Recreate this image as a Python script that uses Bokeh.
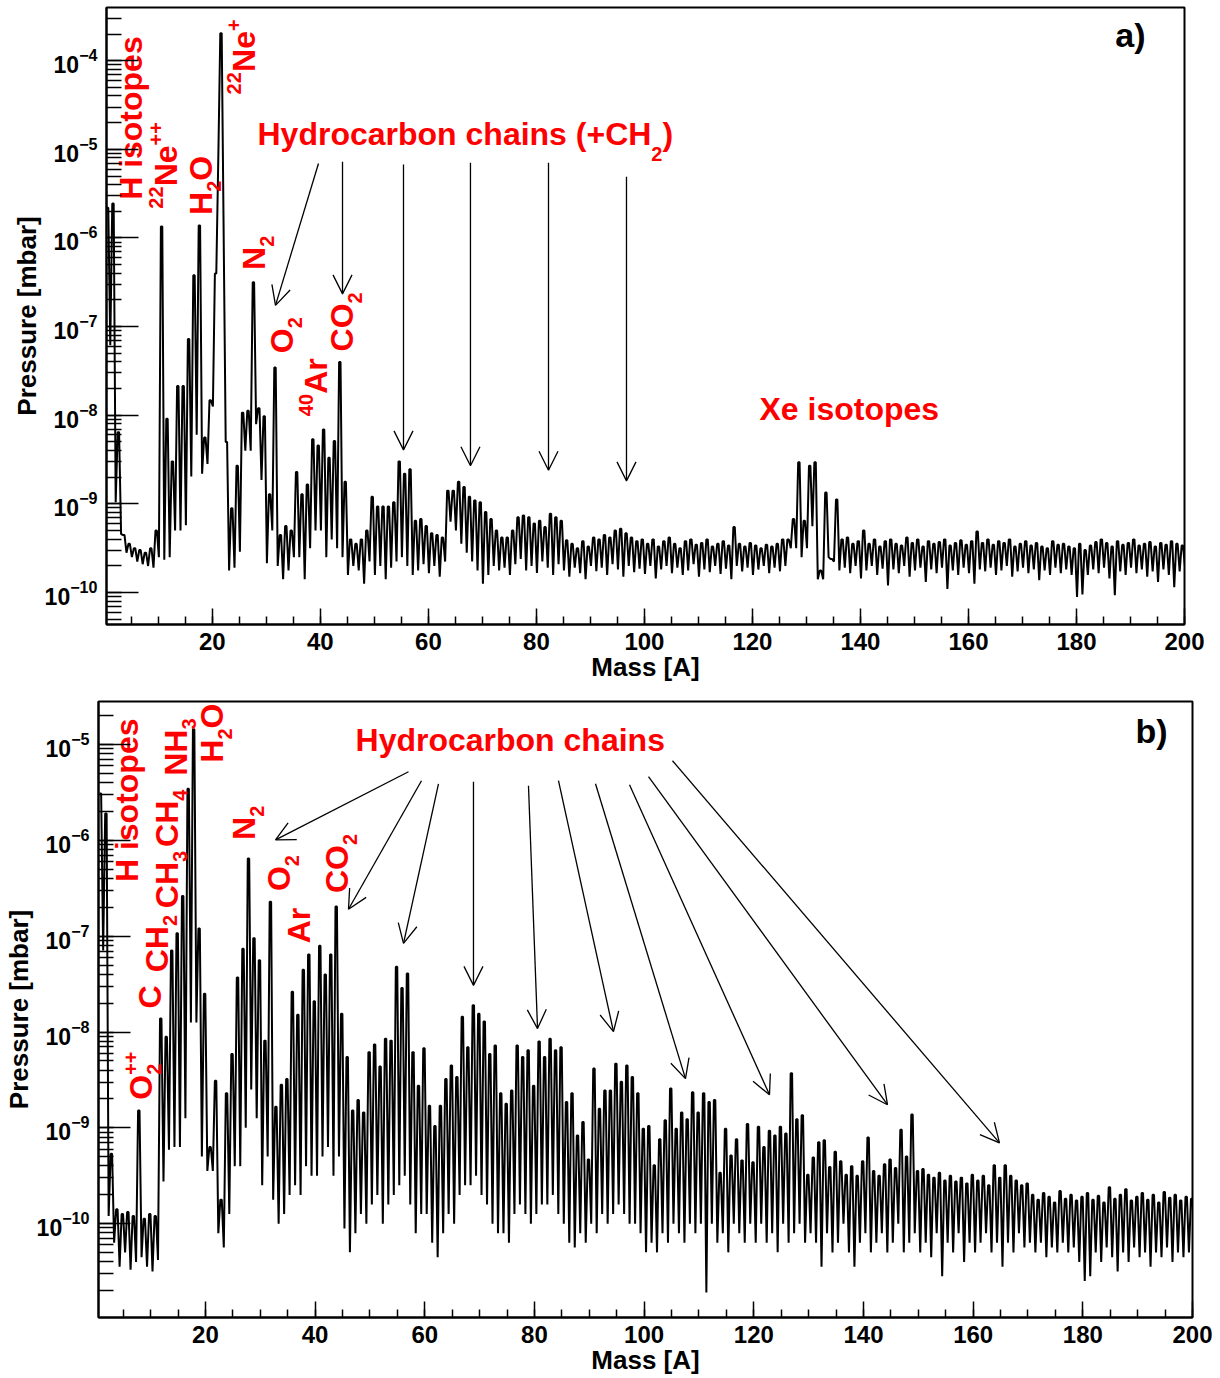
import numpy as np
from bokeh.plotting import figure
from bokeh.layouts import column
from bokeh.models import Arrow, OpenHead, SingleIntervalTicker, LogTicker
from bokeh.core.properties import value
from bokeh.embed import file_html
from bokeh.resources import INLINE

# ---------------- data (log10 of pressure in mbar) ----------------
MASS = list(range(1, 201))          # integer mass numbers
A_MASS_OFFSET = -0.4                # peak positions in panel a appear ~0.4 A low
B_MASS_OFFSET = -0.15               # peak positions in panel b appear ~0.15 A low

# panel a: peak tops at each mass
A_PEAK_LOG = [
    -5.66, -5.61, -8.19, -9.35, -9.45, -9.50, -9.52, -9.55, -9.50, -9.30,
    -5.87, -8.04, -8.52, -7.67, -7.67, -7.14, -6.42, -5.86, -8.25, -7.83,
    -6.40, -3.69, -8.30, -9.05, -8.57, -7.97, -7.95, -6.50, -7.92, -8.01,
    -8.89, -7.46, -9.35, -9.25, -9.30, -8.64, -8.89, -8.78, -8.27, -8.34,
    -8.16, -8.48, -8.29, -7.40, -8.75, -9.40, -9.45, -9.40, -9.30, -8.92,
    -9.03, -9.03, -9.03, -8.98, -8.52, -8.66, -8.61, -9.19, -9.17, -9.25,
    -9.33, -9.35, -9.38, -8.85, -8.85, -8.75, -8.81, -8.92, -8.96, -8.98,
    -9.09, -9.17, -9.30, -9.38, -9.38, -9.30, -9.15, -9.13, -9.15, -9.22,
    -9.19, -9.26, -9.11, -9.15, -9.19, -9.41, -9.45, -9.50, -9.42, -9.48,
    -9.38, -9.40, -9.35, -9.38, -9.30, -9.28, -9.33, -9.38, -9.42, -9.40,
    -9.45, -9.40, -9.48, -9.42, -9.38, -9.45, -9.50, -9.42, -9.40, -9.46,
    -9.44, -9.40, -9.48, -9.45, -9.42, -9.47, -9.26, -9.45, -9.48, -9.44,
    -9.47, -9.50, -9.46, -9.48, -9.45, -9.40, -9.40, -9.17, -8.53, -9.19,
    -8.57, -8.53, -9.75, -8.87, -9.62, -8.95, -9.40, -9.38, -9.45, -9.42,
    -9.30, -9.45, -9.40, -9.48, -9.42, -9.40, -9.45, -9.47, -9.38, -9.44,
    -9.40, -9.48, -9.42, -9.45, -9.43, -9.40, -9.47, -9.44, -9.41, -9.46,
    -9.42, -9.31, -9.44, -9.40, -9.46, -9.42, -9.44, -9.40, -9.48, -9.45,
    -9.42, -9.47, -9.44, -9.48, -9.50, -9.42, -9.46, -9.45, -9.48, -9.50,
    -9.45, -9.52, -9.47, -9.43, -9.40, -9.44, -9.48, -9.42, -9.46, -9.44,
    -9.40, -9.47, -9.45, -9.43, -9.48, -9.44, -9.46, -9.42, -9.45, -9.47,
]
# panel a: minima between mass m and m+1
A_VALLEY_LOG = [
    -7.21, -8.98, -9.34, -9.55, -9.60, -9.65, -9.68, -9.70, -9.72, -9.60,
    -9.63, -9.60, -9.30, -9.30, -9.24, -8.69, -8.22, -8.66, -8.55, -7.90,
    -5.10, -6.00, -9.75, -9.72, -9.54, -8.40, -8.40, -8.10, -8.73, -9.67,
    -9.30, -9.70, -9.85, -9.75, -9.60, -9.60, -9.85, -9.50, -9.30, -9.30,
    -9.60, -9.40, -9.50, -9.60, -9.80, -9.70, -9.75, -9.90, -9.65, -9.80,
    -9.70, -9.85, -9.72, -9.65, -9.60, -9.70, -9.80, -9.75, -9.68, -9.78,
    -9.70, -9.82, -9.65, -9.20, -9.30, -9.45, -9.55, -9.65, -9.75, -9.90,
    -9.80, -9.70, -9.75, -9.72, -9.80, -9.68, -9.62, -9.75, -9.70, -9.78,
    -9.65, -9.72, -9.80, -9.68, -9.75, -9.82, -9.72, -9.78, -9.85, -9.70,
    -9.76, -9.72, -9.80, -9.68, -9.74, -9.82, -9.70, -9.77, -9.73, -9.79,
    -9.70, -9.84, -9.74, -9.70, -9.78, -9.72, -9.80, -9.75, -9.68, -9.82,
    -9.74, -9.77, -9.70, -9.79, -9.73, -9.85, -9.70, -9.76, -9.72, -9.80,
    -9.74, -9.70, -9.78, -9.72, -9.76, -9.70, -9.50, -9.50, -9.60, -9.50,
    -9.25, -9.85, -9.85, -9.60, -9.65, -9.75, -9.72, -9.78, -9.70, -9.84,
    -9.75, -9.70, -9.80, -9.73, -9.92, -9.74, -9.78, -9.70, -9.82, -9.75,
    -9.72, -9.88, -9.74, -9.78, -9.72, -9.96, -9.75, -9.80, -9.72, -9.78,
    -9.90, -9.74, -9.76, -9.72, -9.80, -9.75, -9.70, -9.82, -9.76, -9.72,
    -9.78, -9.74, -9.86, -9.75, -9.80, -9.72, -9.78, -9.74, -9.80, -10.05,
    -10.02, -9.80, -9.74, -9.78, -9.72, -9.84, -10.03, -9.76, -9.80, -9.72,
    -9.78, -9.74, -9.82, -9.76, -9.88, -9.74, -9.80, -9.94, -9.76, -9.72,
]
# panel b: peak tops at each mass
B_PEAK_LOG = [
    -5.51, -5.72, -9.27, -9.85, -9.90, -9.88, -9.92, -8.82, -9.95, -9.90,
    -9.92, -7.86, -8.05, -7.15, -6.97, -6.58, -5.46, -4.84, -6.92, -7.60,
    -9.20, -8.51, -9.75, -8.64, -8.23, -7.43, -7.13, -6.19, -7.02, -7.25,
    -8.09, -6.64, -8.78, -8.55, -8.49, -7.58, -7.82, -7.35, -7.19, -7.68,
    -7.10, -7.40, -7.19, -6.69, -7.81, -8.26, -8.82, -8.71, -8.84, -8.21,
    -8.13, -8.36, -8.07, -8.09, -7.32, -7.54, -7.39, -8.21, -8.56, -8.17,
    -8.77, -8.98, -8.77, -8.49, -8.35, -8.47, -7.84, -8.16, -7.72, -7.81,
    -7.89, -8.23, -8.14, -8.64, -8.75, -8.61, -8.14, -8.26, -8.19, -8.56,
    -8.10, -8.26, -8.07, -8.19, -8.16, -8.73, -8.64, -9.08, -8.94, -9.33,
    -8.38, -8.80, -8.61, -8.61, -8.33, -8.52, -8.35, -8.47, -8.64, -9.01,
    -8.98, -9.39, -9.12, -8.92, -8.59, -9.01, -8.84, -8.91, -8.63, -8.84,
    -8.64, -8.73, -8.71, -9.47, -9.01, -9.29, -9.12, -9.34, -8.96, -9.36,
    -8.99, -9.20, -9.03, -9.08, -8.99, -9.06, -8.43, -8.91, -8.87, -9.49,
    -9.31, -9.15, -9.13, -9.41, -9.25, -9.35, -9.49, -9.40, -9.50, -9.35,
    -9.10, -9.45, -9.50, -9.38, -9.33, -9.42, -9.02, -9.30, -8.86, -9.45,
    -9.43, -9.49, -9.52, -9.47, -9.55, -9.50, -9.56, -9.52, -9.58, -9.49,
    -9.55, -9.50, -9.60, -9.39, -9.52, -9.39, -9.50, -9.55, -9.60, -9.58,
    -9.70, -9.75, -9.68, -9.72, -9.78, -9.66, -9.74, -9.70, -9.76, -9.72,
    -9.68, -9.75, -9.71, -9.78, -9.62, -9.74, -9.70, -9.64, -9.76, -9.72,
    -9.68, -9.75, -9.70, -9.78, -9.67, -9.73, -9.70, -9.76, -9.72, -9.74,
]
# panel b: minima between mass m and m+1
B_VALLEY_LOG = [
    -7.15, -9.92, -10.20, -10.45, -10.30, -10.48, -10.40, -10.35, -10.45, -10.50,
    -10.38, -9.56, -9.23, -9.20, -9.20, -8.90, -7.90, -7.90, -9.30, -9.45,
    -9.45, -10.10, -10.25, -9.90, -9.40, -9.40, -9.00, -8.60, -8.90, -9.60,
    -9.30, -9.75, -10.00, -9.90, -9.70, -9.60, -9.70, -9.40, -9.50, -9.50,
    -9.30, -9.20, -9.50, -9.30, -10.05, -10.30, -10.10, -9.90, -10.00, -9.80,
    -9.70, -10.00, -9.80, -9.70, -9.60, -9.50, -9.80, -10.10, -9.90, -9.90,
    -10.20, -10.35, -10.10, -9.90, -10.00, -9.70, -9.60, -9.60, -9.50, -9.70,
    -9.80, -10.00, -10.10, -10.10, -10.20, -9.90, -9.80, -9.90, -10.00, -9.90,
    -9.80, -9.80, -9.70, -9.90, -10.00, -10.20, -10.25, -10.10, -10.20, -10.00,
    -10.10, -9.90, -10.00, -9.90, -9.80, -9.90, -10.00, -10.00, -10.10, -10.30,
    -10.20, -10.30, -10.10, -10.20, -10.00, -10.10, -10.20, -10.00, -10.10, -10.00,
    -10.72, -10.00, -10.20, -10.10, -10.30, -10.00, -10.10, -10.20, -10.00, -10.20,
    -10.00, -10.20, -10.10, -10.30, -10.00, -10.20, -10.10, -10.00, -10.20, -10.10,
    -10.20, -10.45, -10.10, -10.30, -10.20, -10.00, -10.30, -10.45, -10.20, -10.10,
    -10.30, -10.20, -10.10, -10.30, -10.20, -10.00, -10.30, -10.20, -10.10, -10.30,
    -10.20, -10.35, -10.10, -10.55, -10.20, -10.30, -10.10, -10.40, -10.20, -10.30,
    -10.20, -10.10, -10.30, -10.20, -10.45, -10.20, -10.30, -10.10, -10.25, -10.20,
    -10.30, -10.20, -10.35, -10.25, -10.30, -10.20, -10.30, -10.25, -10.40, -10.60,
    -10.55, -10.30, -10.40, -10.25, -10.35, -10.50, -10.30, -10.40, -10.25, -10.35,
    -10.30, -10.45, -10.30, -10.35, -10.25, -10.40, -10.30, -10.35, -10.30, -10.20,
]

X_TICK_INTERVAL = 20

# annotations: (segments, rotated, (mass, log10 p) of baseline start)
A_LABELS = [
    ([("H isotopes", "n")], True, (7.07, -5.57)),
    ([("22", "sup"), ("Ne", "n"), ("++", "sup")], True, (13.55, -5.67)),
    ([("H", "n"), ("2", "sub"), ("O", "n")], True, (20.03, -5.74)),
    ([("22", "sup"), ("Ne", "n"), ("+", "sup")], True, (27.99, -4.38)),
    ([("N", "n"), ("2", "sub")], True, (29.84, -6.36)),
    ([("O", "n"), ("2", "sub")], True, (35.02, -7.30)),
    ([("40", "sup"), ("Ar", "n")], True, (41.32, -8.01)),
    ([("CO", "n"), ("2", "sub")], True, (46.13, -7.28)),
    ([("Hydrocarbon chains (+CH", "n"), ("2", "subh"), (")", "n")], False, (28.36, -4.96)),
    ([("Xe isotopes", "n")], False, (121.3, -8.06)),
]
B_LABELS = [
    ([("H isotopes", "n")], True, (7.79, -6.435)),
    ([("O", "n"), ("2", "sub", False), ("++", "sup")], True, (10.35, -8.707)),
    ([("C", "n")], True, (11.99, -7.754)),
    ([("CH", "n"), ("2", "sub")], True, (13.27, -7.377)),
    ([("CH", "n"), ("3", "sub")], True, (15.09, -6.707)),
    ([("CH", "n"), ("4", "sub")], True, (15.09, -6.068)),
    ([("NH", "n"), ("3", "sub")], True, (16.73, -5.325)),
    ([("H", "n"), ("2", "sub"), ("O", "n")], True, (23.29, -5.189)),
    ([("N", "n"), ("2", "sub")], True, (29.13, -5.995)),
    ([("O", "n"), ("2", "sub")], True, (35.51, -6.529)),
    ([("Ar", "n")], True, (39.16, -7.074)),
    ([("CO", "n"), ("2", "sub")], True, (46.09, -6.550)),
    ([("Hydrocarbon chains", "n")], False, (47.37, -5.074)),
]
# arrows: (mass start, log10 p start, mass end, log10 p end)
A_ARROWS = [
    (39.65, -5.16, 31.69, -6.76),
    (44.10, -5.14, 44.10, -6.63),
    (55.39, -5.17, 55.39, -8.39),
    (67.79, -5.15, 67.79, -8.57),
    (82.24, -5.15, 82.24, -8.62),
    (96.68, -5.31, 96.68, -8.74),
]
B_ARROWS = [
    (57.03, -5.283, 32.78, -5.995),
    (59.40, -5.377, 46.09, -6.718),
    (62.50, -5.409, 56.12, -7.074),
    (68.88, -5.388, 68.88, -7.513),
    (78.91, -5.430, 80.56, -7.964),
    (84.38, -5.377, 94.41, -7.995),
    (91.13, -5.409, 107.54, -8.487),
    (97.33, -5.419, 122.86, -8.655),
    (100.80, -5.335, 144.38, -8.759),
    (105.17, -5.168, 164.80, -9.157),
]

# ---------------- styling ----------------
FONT = "Liberation Sans"
RED = "#ff0000"
LABEL_SIZE = 32
BASELINE_FIX = 0.37     # renderer places the alphabetic baseline ~0.37 em low
PEAK_TOP_HALF = 0.13    # drawn half-width of each peak top (mass units)
GLYPH_W = {" ": 0.278, "(": 0.333, ")": 0.333, "+": 0.584, "A": 0.722, "C": 0.722,
           "H": 0.722, "N": 0.722, "O": 0.778, "X": 0.667, "a": 0.556, "b": 0.611,
           "c": 0.556, "d": 0.611, "e": 0.556, "h": 0.611, "i": 0.278, "n": 0.611,
           "o": 0.611, "p": 0.611, "r": 0.389, "s": 0.556, "t": 0.333, "y": 0.556}


def seg_width(s):
    return sum(GLYPH_W.get(c, 0.556) for c in s)


def make_fig(geo, mb):
    p = figure(x_range=(geo["x0"], geo["x1"]), y_range=(10 ** geo["l0"], 10 ** geo["l1"]),
               y_axis_type="log", frame_width=geo["fw"], frame_height=geo["fh"],
               min_border_left=mb[0], min_border_right=mb[1], min_border_top=mb[2],
               min_border_bottom=mb[3], output_backend="svg", toolbar_location=None,
               frame_align=False)
    p.xgrid.visible = False
    p.ygrid.visible = False
    p.outline_line_color = "black"
    p.outline_line_width = 2
    p.background_fill_color = "white"
    p.border_fill_color = "white"
    p.xaxis.ticker = SingleIntervalTicker(interval=X_TICK_INTERVAL, num_minor_ticks=4)
    p.yaxis.ticker = LogTicker(num_minor_ticks=10)
    for ax in (p.xaxis[0], p.yaxis[0]):
        ax.axis_line_width = 2
        ax.major_tick_out = 0
        ax.minor_tick_out = 0
        ax.major_tick_line_width = 1.5
        ax.minor_tick_line_width = 1.5
        ax.major_label_text_font = FONT
        ax.major_label_text_font_style = "bold"
        ax.axis_label_text_font = FONT
        ax.axis_label_text_font_style = "bold"
        ax.axis_label_text_font_size = "26px"
        ax.axis_label_text_color = "black"
        ax.major_label_text_color = "black"
    p.xaxis.major_tick_in = 16
    p.xaxis.minor_tick_in = 8
    p.yaxis.major_tick_in = 32
    p.yaxis.minor_tick_in = 15
    p.xaxis.major_label_text_font_size = "24px"
    p.yaxis.major_label_text_font_size = "23px"
    p.xaxis.axis_label = "Mass [A]"
    p.yaxis.axis_label = "Pressure [mbar]"
    p.xaxis.major_label_standoff = 8
    p.xaxis.axis_label_standoff = -1
    p.yaxis.major_label_standoff = 9
    p.yaxis.axis_label_standoff = 0
    return p


def draw_trace(p, peaks, valleys, offset):
    xs, ys = [], []
    for m, pk, vl in zip(MASS, peaks, valleys):
        xs += [m + offset - PEAK_TOP_HALF, m + offset + PEAK_TOP_HALF, m + 0.5 + offset]
        ys += [10 ** pk, 10 ** pk, 10 ** vl]
    p.line(xs, ys, line_color="black", line_width=2)


def draw_label(p, geo, segs, rotated, anchor, size=LABEL_SIZE, color=RED):
    x0, l0 = anchor
    mpp = (geo["x1"] - geo["x0"]) / geo["fw"]
    lpp = (geo["l1"] - geo["l0"]) / geo["fh"]
    adv = 0.0
    for seg in segs:
        text, kind = seg[0], seg[1]
        advance = seg[2] if len(seg) > 2 else True
        sc = 1.0 if kind == "n" else 0.63
        fs = size * sc
        shift = {"n": 0.0, "sub": -0.28, "subh": -0.5, "sup": 0.45}[kind] * size + BASELINE_FIX * fs
        if rotated:
            x, l = x0 - shift * mpp, l0 + adv * lpp
        else:
            x, l = x0 + adv * mpp, l0 + shift * lpp
        p.text(x=[x], y=[10 ** l], text=[text], angle=np.pi / 2 if rotated else 0.0,
               text_align="left", text_baseline="alphabetic", text_font=value(FONT),
               text_font_style="bold", text_font_size=f"{round(fs)}px", text_color=color)
        if advance:
            adv += seg_width(text) * fs


def draw_arrows(p, arrows):
    for xs, ls, xe, le in arrows:
        p.add_layout(Arrow(end=OpenHead(size=19, line_width=1.3, line_color="black"),
                           x_start=xs, y_start=10 ** ls, x_end=xe, y_end=10 ** le,
                           line_width=1.3, line_color="black"))


GEO_A = dict(x0=0.4, x1=200.0, l0=-10.36, l1=-3.40, fw=1078, fh=617)
GEO_B = dict(x0=0.5, x1=200.0, l0=-10.98, l1=-4.55, fw=1094, fh=616)

pa = make_fig(GEO_A, (106, 36, 7, 70))
draw_trace(pa, A_PEAK_LOG, A_VALLEY_LOG, A_MASS_OFFSET)
for segs, rot, anc in A_LABELS:
    draw_label(pa, GEO_A, segs, rot, anc)
draw_label(pa, GEO_A, [("a)", "n")], False, (187.2, -3.852), size=34, color="black")
draw_arrows(pa, A_ARROWS)

pb = make_fig(GEO_B, (98, 28, 7, 60))
draw_trace(pb, B_PEAK_LOG, B_VALLEY_LOG, B_MASS_OFFSET)
for segs, rot, anc in B_LABELS:
    draw_label(pb, GEO_B, segs, rot, anc)
draw_label(pb, GEO_B, [("b)", "n")], False, (189.6, -4.99), size=34, color="black")
draw_arrows(pb, B_ARROWS)

layout = column(pa, pb, spacing=0)
open("out.html", "w").write(file_html(layout, INLINE))
